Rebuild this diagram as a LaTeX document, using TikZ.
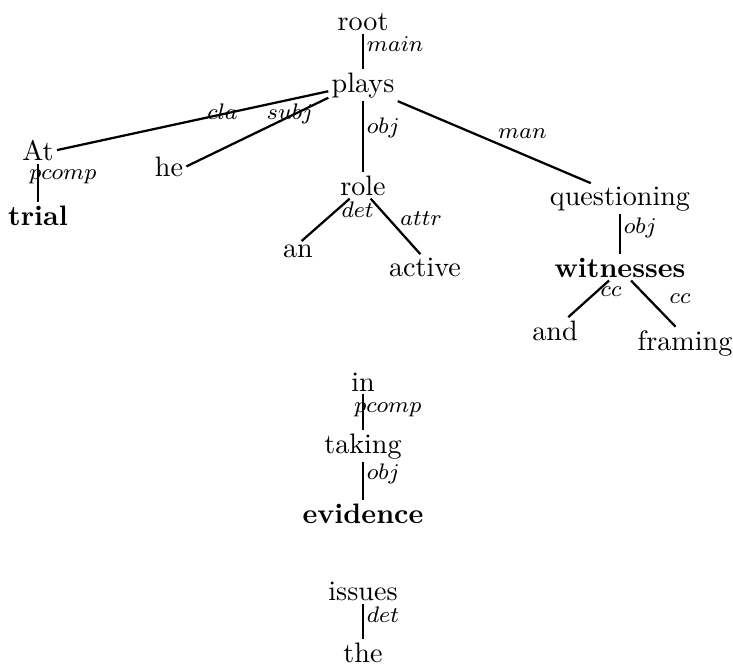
\documentclass[tikz,border=0pt]{standalone}
\usepackage{tikz}

\begin{document}
\begin{tikzpicture}[
		x=0.0125cm, y=-0.0125cm,
		word/.style={anchor=base, inner sep=1pt},
		head/.style={word, font=\bfseries},
		lab/.style={font=\footnotesize, inner sep=1pt, anchor=west},
		labl/.style={lab, xshift=-4.5pt},
		link/.style={thick}
		]
		\useasboundingbox (0,0) rectangle (733,666);
		
		% main clause
		\node[word] (root) at (363,30) {root};
		\node[word] (plays) at (363,92) {plays};
		\node[word] (at) at (38,160) {At};
		\node[head] (trial) at (38,225) {trial};
		\node[word] (he) at (169,176) {he};
		\node[word] (role) at (363,195) {role};
		\node[word] (an) at (298,257) {an};
		\node[word] (active) at (425,276) {active};
		\node[word] (questioning) at (620,205) {questioning};
		\node[head] (witnesses) at (620,277) {witnesses};
		\node[word] (and) at (555,340) {and};
		\node[word] (framing) at (685,350) {framing};
		
		% fragments
		\node[word] (in) at (363,391) {in};
		\node[word] (taking) at (363,453) {taking};
		\node[head] (evidence) at (363,523) {evidence};
		\node[word] (issues) at (363,600) {issues};
		\node[word] (the) at (363,662) {the};
		
		\draw[link] (root) -- node[lab, pos=.3] {$main$} (plays);
		\draw[link] (plays.190) -- node[lab, pos=.39, anchor=center, yshift=1pt] {$cla$} (at.east);
		\draw[link] (plays.200) -- node[lab, pos=.27, anchor=center, yshift=1pt] {$subj$} (he.east);
		\draw[link] (plays) -- node[lab, pos=.37] {$obj$} (role);
		\draw[link] (plays.south east) -- node[lab, pos=.5, anchor=south west] {$man$} (questioning.152);
		\draw[link] (at) -- node[labl, pos=.35] {$pcomp$} (trial);
		\draw[link] (role.-135) -- node[lab, pos=.25] {$det$} (an.70);
		\draw[link] (role.-60) -- node[lab, pos=.35, xshift=3pt] {$attr$} (active.110);
		\draw[link] (questioning) -- node[lab, pos=.35] {$obj$} (witnesses);
		\draw[link] (witnesses.-130) -- node[lab, pos=.3] {$cc$} (and.45);
		\draw[link] (witnesses.-50) -- node[lab, pos=.4, xshift=6pt] {$cc$} (framing.120);
		\draw[link] (in) -- node[labl, pos=.42] {$pcomp$} (taking);
		\draw[link] (taking) -- node[lab, pos=.3] {$obj$} (evidence);
		\draw[link] (issues) -- node[lab, pos=.3] {$det$} (the);
		
	\end{tikzpicture}
\end{document}
